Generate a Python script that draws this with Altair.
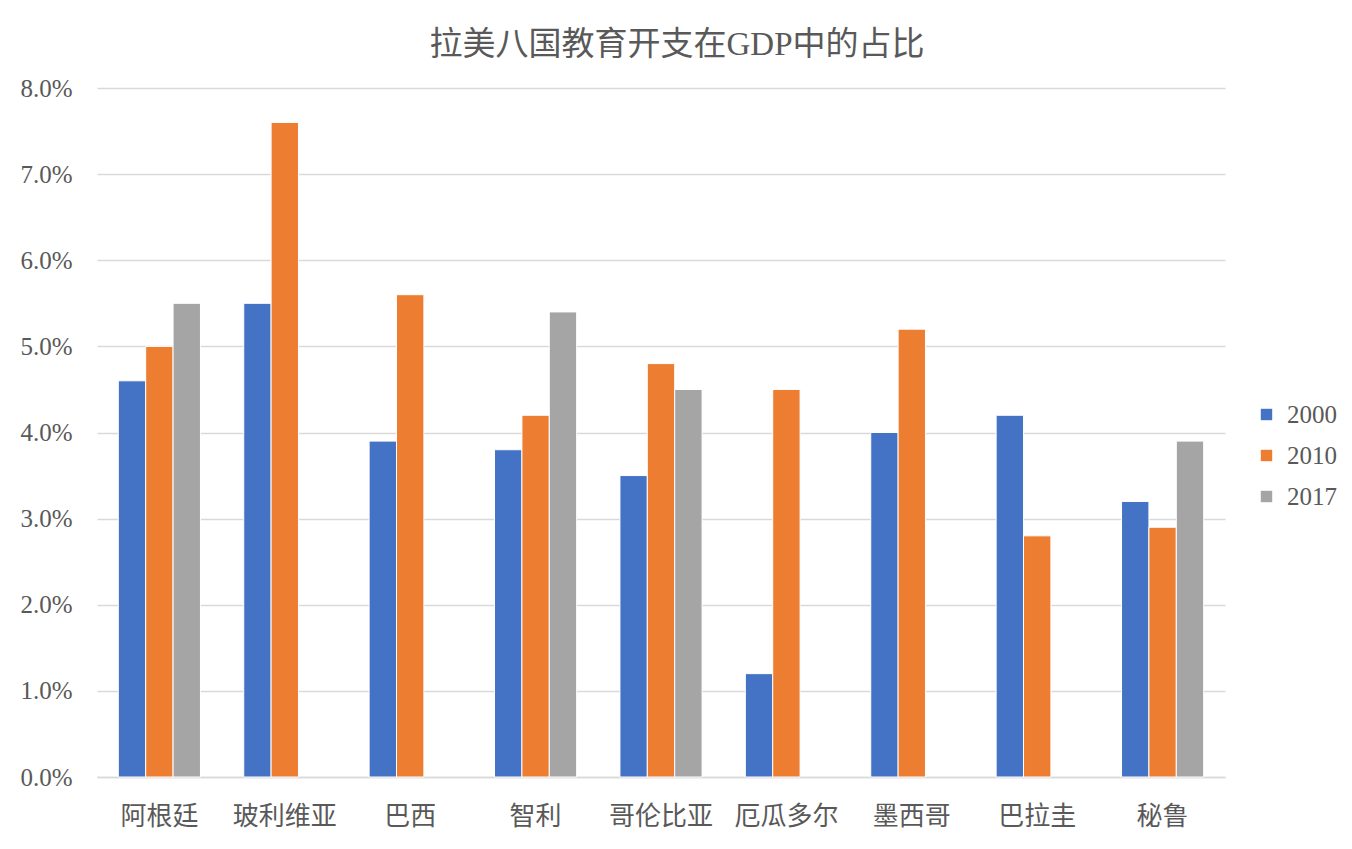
import altair as alt
import pandas as pd

countries = ["阿根廷", "玻利维亚", "巴西", "智利", "哥伦比亚", "厄瓜多尔", "墨西哥", "巴拉圭", "秘鲁"]
years = ["2000", "2010", "2017"]
v2000 = [4.6, 5.5, 3.9, 3.8, 3.5, 1.2, 4.0, 4.2, 3.2]
v2010 = [5.0, 7.6, 5.6, 4.2, 4.8, 4.5, 5.2, 2.8, 2.9]
v2017 = [5.5, None, None, 5.4, 4.5, None, None, None, 3.9]
colors = ["#4472C4", "#ED7D31", "#A5A5A5"]

rows = []
for i, c in enumerate(countries):
    for y, vals in zip(years, [v2000, v2010, v2017]):
        if vals[i] is not None:
            rows.append({"country": c, "year": y, "value": vals[i]})
df = pd.DataFrame(rows)

FONT = "Liberation Serif, Noto Sans CJK SC, serif"
TXT = "#595959"

chart = alt.Chart(df).mark_bar(stroke="white", strokeWidth=1).encode(
    x=alt.X("country:N", sort=countries,
            scale=alt.Scale(paddingInner=0.345, paddingOuter=0.17),
            axis=alt.Axis(title=None, labelAngle=0, labelFontSize=26, labelColor=TXT,
                          labelFont=FONT, labelPadding=26, ticks=False,
                          domainColor="#D9D9D9", domainWidth=1.5, grid=False)),
    xOffset=alt.XOffset("year:N", scale=alt.Scale(domain=years, paddingInner=0, paddingOuter=0)),
    y=alt.Y("value:Q", scale=alt.Scale(domain=[0, 8], nice=False),
            axis=alt.Axis(title=None, values=[0, 1, 2, 3, 4, 5, 6, 7, 8],
                          labelExpr="format(datum.value, '.1f') + '%'",
                          labelFontSize=25, labelColor=TXT, labelFont=FONT,
                          labelPadding=25, ticks=False, domain=False,
                          gridColor="#D9D9D9", gridWidth=1.5)),
    color=alt.Color("year:N", scale=alt.Scale(domain=years, range=colors),
                    legend=alt.Legend(title=None, orient="none", legendX=1157, legendY=314,
                                      symbolType="square", symbolSize=130,
                                      symbolStrokeWidth=0, labelFontSize=25,
                                      labelFont=FONT, labelColor=TXT, rowPadding=15,
                                      labelOffset=8)),
).properties(
    width=1128, height=689,
    title=alt.TitleParams("拉美八国教育开支在GDP中的占比", fontSize=33, font=FONT,
                          color=TXT, fontWeight="normal", offset=14, dx=16),
    autosize=alt.AutoSizeParams(type="none"),
    padding={"left": 89, "top": 80, "right": 119, "bottom": 64},
).configure_view(stroke=None)

chart.save("out.html", embed_options={"renderer": "svg", "actions": False})
